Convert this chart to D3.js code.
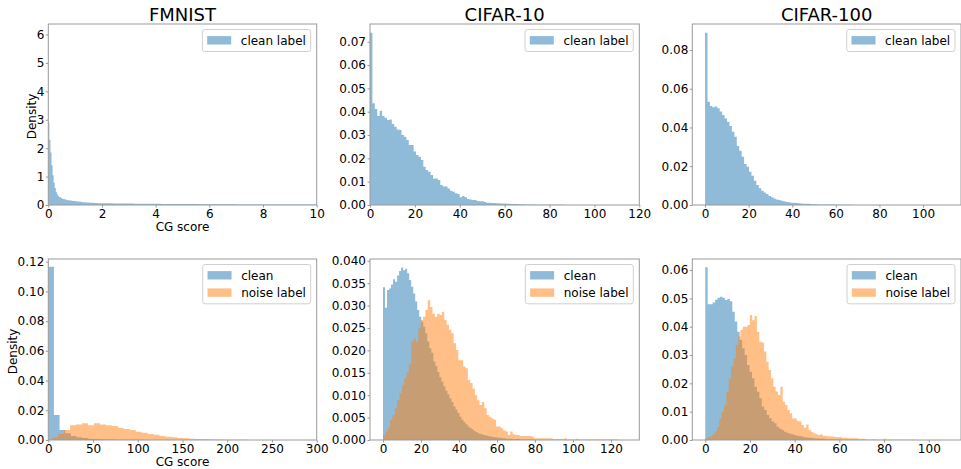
<!DOCTYPE html>
<html lang="en">
<head>
  <meta charset="UTF-8">
  <title>CG score histograms</title>
  <script src="https://cdn.jsdelivr.net/npm/d3@7"></script>
</head>
<body style="margin:0">
<style>
  text { font-family: "DejaVu Sans", sans-serif; fill: #000; }
  .tick text { font-size: 12px; }
  .tick line { stroke: #999; }
  .spine { fill: none; stroke: #999; stroke-width: 1; }
</style>
<svg id="fig" width="961" height="469"></svg>
<script>
// ---- data: histogram densities (bin start, bin width, heights) ----
// FMNIST, clean labels only (fine bins near zero, coarser tail)
var fmnistHeadStart = 0, fmnistHeadWidth = 0.04;
var fmnistHead = [2.9, 2.3, 1.85, 1.4, 1.05, 0.78, 0.6, 0.47, 0.38, 0.32,
  0.28, 0.26, 0.24, 0.22, 0.21, 0.2, 0.19, 0.18, 0.17, 0.165,
  0.16, 0.155, 0.15, 0.145, 0.14, 0.135, 0.13, 0.125, 0.12, 0.115,
  0.11, 0.105, 0.1, 0.1, 0.095, 0.09, 0.09, 0.085, 0.085, 0.08,
  0.08, 0.078, 0.075, 0.073, 0.07, 0.068, 0.066, 0.064, 0.062, 0.06];
var fmnistTailStart = 2, fmnistTailWidth = 0.2;
var fmnistTail = [0.06, 0.058, 0.056, 0.054, 0.052, 0.05, 0.048, 0.046, 0.044, 0.042,
  0.04, 0.038, 0.037, 0.036, 0.035, 0.033, 0.032, 0.031, 0.03, 0.029,
  0.027, 0.026, 0.025, 0.024, 0.023, 0.022, 0.021, 0.021, 0.02, 0.019,
  0.018, 0.018, 0.017, 0.017, 0.016, 0.016, 0.015, 0.015, 0.014, 0.014];

// CIFAR-10, clean labels only
var c10CleanStart = 0, c10CleanWidth = 1.08;
var c10Clean = [0.0739, 0.0436, 0.0412, 0.0382, 0.0404, 0.0382, 0.0374, 0.0364, 0.0367, 0.0347,
  0.0336, 0.0324, 0.0322, 0.0300, 0.0293, 0.0279, 0.0257, 0.0257, 0.0229, 0.0214,
  0.0207, 0.0193, 0.0164, 0.0150, 0.0143, 0.0129, 0.0114, 0.0114, 0.0107, 0.0086,
  0.0079, 0.0079, 0.0071, 0.0061, 0.0057, 0.0050, 0.0047, 0.0033, 0.0039, 0.0033,
  0.0026, 0.0024, 0.0021, 0.0021, 0.0017, 0.0016, 0.0016, 0.0013, 0.0010, 0.0010,
  0.0009, 0.0009, 0.0007, 0.0007, 0.0006, 0.0006, 0.0005, 0.0005, 0.0004, 0.0004,
  0.0004, 0.0003, 0.0003, 0.0003, 0.0002, 0.0002, 0.0002, 0.0002, 0.0001, 0.0001,
  0.0001, 0.0001, 0.0001, 0.0001, 0.0001, 0.0001, 0.0001, 0.0001, 0.0001, 0.0001,
  0.00005, 0.00005, 0.00005, 0.00005, 0.00005, 0.00005, 0.00005, 0.00005, 0.00005, 0.00005];

// CIFAR-100, clean labels only
var c100CleanStart = 0, c100CleanWidth = 1.12;
var c100Clean = [0.0889, 0.0533, 0.0511, 0.0504, 0.0508, 0.0499, 0.0482, 0.0464, 0.0447, 0.0430,
  0.0408, 0.0378, 0.0352, 0.0304, 0.0280, 0.0249, 0.0212, 0.0198, 0.0172, 0.0151,
  0.0125, 0.0103, 0.0086, 0.0074, 0.0064, 0.0057, 0.0046, 0.0040, 0.0034, 0.0029,
  0.0026, 0.0022, 0.0019, 0.0015, 0.0014, 0.0012, 0.0012, 0.0010, 0.0009, 0.0008,
  0.0007, 0.0006, 0.0006, 0.0005, 0.0004, 0.0004, 0.0003, 0.0003, 0.0003, 0.0002,
  0.0002, 0.0002, 0.0002, 0.0001, 0.0001, 0.0001, 0.0001, 0.0001, 0.0001, 0.0001,
  0.00005, 0.00005, 0.00005, 0.00005, 0.00005, 0.00005, 0.00005, 0.00005, 0.00005, 0.00005];

// FMNIST with noisy labels
var fmnNoisyCleanStart = 0, fmnNoisyCleanWidth = 6.3;
var fmnNoisyClean = [0.1166, 0.0168, 0.0067, 0.0045, 0.0027, 0.0018, 0.0013, 0.0009, 0.0007, 0.0005,
  0.0004, 0.0003, 0.0002, 0.0002, 0.0001, 0.0001, 0.0001];
var fmnNoiseStart = 4.3, fmnNoiseWidth = 6.67;
var fmnNoise = [0.0018, 0.0040, 0.0067, 0.0099, 0.0105, 0.0112, 0.0099, 0.0112, 0.0105, 0.0099,
  0.0095, 0.0083, 0.0074, 0.0067, 0.0056, 0.0049, 0.0040, 0.0036, 0.0027, 0.0022,
  0.0018, 0.0013, 0.0012, 0.0009, 0.0007, 0.0006, 0.0005, 0.0004, 0.0003, 0.0002,
  0.0001, 0.0001, 0.0001];

// CIFAR-10 with noisy labels
var c10NoisyCleanStart = 0, c10NoisyCleanWidth = 1.06;
var c10NoisyClean = [0.0341, 0.0295, 0.0335, 0.0338, 0.0347, 0.0359, 0.0353, 0.0367, 0.0377, 0.0385,
  0.0379, 0.0382, 0.0372, 0.0357, 0.0342, 0.0327, 0.0309, 0.0290, 0.0275, 0.0264,
  0.0253, 0.0238, 0.0220, 0.0205, 0.0195, 0.0175, 0.0165, 0.0152, 0.0140, 0.0130,
  0.0120, 0.0110, 0.0102, 0.0093, 0.0085, 0.0075, 0.0068, 0.0060, 0.0052, 0.0045,
  0.0040, 0.0035, 0.0030, 0.0027, 0.0024, 0.0020, 0.0018, 0.0015, 0.0014, 0.0012,
  0.0011, 0.0010, 0.0009, 0.0008, 0.0007, 0.0006, 0.0006, 0.0005, 0.0005, 0.0004,
  0.0004, 0.0003, 0.0003, 0.0003, 0.0002, 0.0002, 0.0002, 0.0002, 0.0001, 0.0001,
  0.0001, 0.0001, 0.0001, 0.0001, 0.0001];
var c10NoiseStart = 0, c10NoiseWidth = 1.24;
var c10Noise = [0.0011, 0.0019, 0.0028, 0.0045, 0.0056, 0.0071, 0.0089, 0.0104, 0.0123, 0.0138,
  0.0152, 0.0171, 0.0220, 0.0227, 0.0220, 0.0249, 0.0268, 0.0275, 0.0290, 0.0312,
  0.0297, 0.0282, 0.0275, 0.0282, 0.0279, 0.0286, 0.0268, 0.0257, 0.0246, 0.0238,
  0.0216, 0.0201, 0.0178, 0.0178, 0.0164, 0.0160, 0.0134, 0.0127, 0.0115, 0.0100,
  0.0089, 0.0078, 0.0085, 0.0071, 0.0056, 0.0052, 0.0048, 0.0045, 0.0030, 0.0030,
  0.0026, 0.0022, 0.0019, 0.0011, 0.0019, 0.0013, 0.0011, 0.0011, 0.0009, 0.0009,
  0.0009, 0.0009, 0.0009, 0.0008, 0.0004, 0.0004, 0.0004, 0.0004, 0.0004, 0.0004,
  0.0004, 0.0004, 0.0002, 0.0002, 0.0002, 0.0002, 0.0002, 0.0004, 0.0001, 0.0001,
  0.0001, 0.0001, 0.0003, 0.0001, 0.0001, 0.0001, 0.0001, 0.0001, 0.0001, 0.0001,
  0.0001, 0.0001, 0.0001, 0.0001, 0.0001, 0.0001, 0.0001, 0.0001, 0.0001, 0.0001];

// CIFAR-100 with noisy labels
var c100NoisyCleanStart = 0, c100NoisyCleanWidth = 1.1;
var c100NoisyClean = [0.0610, 0.0479, 0.0479, 0.0485, 0.0495, 0.0502, 0.0506, 0.0502, 0.0494, 0.0498,
  0.0490, 0.0453, 0.0418, 0.0382, 0.0353, 0.0324, 0.0300, 0.0265, 0.0241, 0.0218,
  0.0188, 0.0170, 0.0147, 0.0118, 0.0106, 0.0088, 0.0077, 0.0065, 0.0059, 0.0047,
  0.0041, 0.0035, 0.0029, 0.0026, 0.0022, 0.0020, 0.0018, 0.0015, 0.0014, 0.0012,
  0.0010, 0.0009, 0.0008, 0.0007, 0.0006, 0.0005, 0.0005, 0.0004, 0.0004, 0.0003,
  0.0003, 0.0003, 0.0002, 0.0002, 0.0002, 0.0001, 0.0001, 0.0001, 0.0001, 0.0001,
  0.0001, 0.0001, 0.0001, 0.0001, 0.0001];
var c100NoiseStart = 0, c100NoiseWidth = 1.05;
var c100Noise = [0.0006, 0.0009, 0.0012, 0.0020, 0.0030, 0.0047, 0.0076, 0.0100, 0.0124, 0.0171,
  0.0218, 0.0260, 0.0288, 0.0335, 0.0365, 0.0388, 0.0400, 0.0400, 0.0406, 0.0441,
  0.0423, 0.0438, 0.0382, 0.0347, 0.0344, 0.0312, 0.0276, 0.0247, 0.0218, 0.0188,
  0.0171, 0.0159, 0.0188, 0.0135, 0.0124, 0.0106, 0.0094, 0.0076, 0.0076, 0.0067,
  0.0065, 0.0053, 0.0043, 0.0055, 0.0035, 0.0029, 0.0024, 0.0020, 0.0018, 0.0020,
  0.0015, 0.0014, 0.0013, 0.0012, 0.0012, 0.0011, 0.0010, 0.0011, 0.0008, 0.0008,
  0.0008, 0.0006, 0.0006, 0.0006, 0.0006, 0.0004, 0.0003, 0.0004, 0.0003, 0.0002,
  0.0002, 0.0003, 0.0002, 0.0001, 0.0001, 0.0001, 0.0004, 0.0001, 0.0001, 0.0001,
  0.0001, 0.0001, 0.0001, 0.0001, 0.0001, 0.0001, 0.0001, 0.0001, 0.0001, 0.0001];

// ---- helpers ----
function makeBins(start, width, values) {
  return values.map(function(v, i) {
    return { x0: start + i * width, x1: start + (i + 1) * width, v: v };
  });
}

var blue = "#1f77b4", orange = "#ff7f0e";

var panels = [
  { title: "FMNIST", left: 48.3, top: 24, right: 316.7, bottom: 205,
    xDomain: [0, 10], yDomain: [0, 6.37], xTicks: d3.range(0, 11, 2), yTicks: d3.range(0, 7, 1),
    yFmt: d3.format("d"), xLabel: "CG score", yLabel: "Density",
    series: [{ label: "clean label", color: blue,
      bins: makeBins(fmnistHeadStart, fmnistHeadWidth, fmnistHead)
              .concat(makeBins(fmnistTailStart, fmnistTailWidth, fmnistTail)) }] },
  { title: "CIFAR-10", left: 370, top: 24, right: 639.3, bottom: 205,
    xDomain: [0, 120], yDomain: [0, 0.0776], xTicks: d3.range(0, 121, 20), yTicks: d3.range(0, 0.0701, 0.01),
    yFmt: d3.format(".2f"),
    series: [{ label: "clean label", color: blue, bins: makeBins(c10CleanStart, c10CleanWidth, c10Clean) }] },
  { title: "CIFAR-100", left: 692.3, top: 24, right: 961, bottom: 205,
    xDomain: [-5.85, 117.4], yDomain: [0, 0.0934], xTicks: d3.range(0, 101, 20), yTicks: d3.range(0, 0.0801, 0.02),
    yFmt: d3.format(".2f"),
    series: [{ label: "clean label", color: blue, bins: makeBins(c100CleanStart, c100CleanWidth, c100Clean) }] },
  { left: 48.3, top: 259, right: 316.7, bottom: 440,
    xDomain: [0, 300], yDomain: [0, 0.1218], xTicks: d3.range(0, 301, 50), yTicks: d3.range(0, 0.1201, 0.02),
    yFmt: d3.format(".2f"), xLabel: "CG score", yLabel: "Density",
    series: [{ label: "clean", color: blue, bins: makeBins(fmnNoisyCleanStart, fmnNoisyCleanWidth, fmnNoisyClean) },
             { label: "noise label", color: orange, bins: makeBins(fmnNoiseStart, fmnNoiseWidth, fmnNoise) }] },
  { left: 370, top: 259, right: 639.3, bottom: 440,
    xDomain: [-6.84, 134.9], yDomain: [0, 0.0404], xTicks: d3.range(0, 121, 20), yTicks: d3.range(0, 0.0401, 0.005),
    yFmt: d3.format(".3f"),
    series: [{ label: "clean", color: blue, bins: makeBins(c10NoisyCleanStart, c10NoisyCleanWidth, c10NoisyClean) },
             { label: "noise label", color: orange, bins: makeBins(c10NoiseStart, c10NoiseWidth, c10Noise) }] },
  { left: 692.3, top: 259, right: 961, bottom: 440,
    xDomain: [-5.8, 114.4], yDomain: [0, 0.0639], xTicks: d3.range(0, 101, 20), yTicks: d3.range(0, 0.0601, 0.01),
    yFmt: d3.format(".2f"),
    series: [{ label: "clean", color: blue, bins: makeBins(c100NoisyCleanStart, c100NoisyCleanWidth, c100NoisyClean) },
             { label: "noise label", color: orange, bins: makeBins(c100NoiseStart, c100NoiseWidth, c100Noise) }] }
];

var svg = d3.select("#fig");
svg.append("rect").attr("width", 961).attr("height", 469).attr("fill", "#fff");

panels.forEach(function(p, idx) {
  var x = d3.scaleLinear().domain(p.xDomain).range([p.left, p.right]);
  var y = d3.scaleLinear().domain(p.yDomain).range([p.bottom, p.top]);
  var g = svg.append("g");

  var clipId = "clip" + idx;
  g.append("clipPath").attr("id", clipId)
    .append("rect").attr("x", p.left).attr("y", p.top)
    .attr("width", p.right - p.left).attr("height", p.bottom - p.top);

  var plot = g.append("g").attr("clip-path", "url(#" + clipId + ")");

  // step-shaped histogram area for each series
  var area = d3.area()
    .x(function(d) { return x(d.x); })
    .y0(y(0))
    .y1(function(d) { return y(d.v); })
    .curve(d3.curveStepAfter);

  p.series.forEach(function(s) {
    var pts = s.bins.map(function(b) { return { x: b.x0, v: b.v }; });
    var last = s.bins[s.bins.length - 1];
    pts.push({ x: last.x1, v: last.v });
    pts.unshift({ x: s.bins[0].x0, v: 0 });
    plot.append("path")
      .datum(pts)
      .attr("d", area)
      .attr("fill", s.color)
      .attr("fill-opacity", 0.5);
  });

  // axes
  var xAxis = d3.axisBottom(x).tickValues(p.xTicks).tickFormat(d3.format("d")).tickSize(2.5).tickPadding(2);
  var yAxis = d3.axisLeft(y).tickValues(p.yTicks).tickFormat(p.yFmt).tickSize(2.5).tickPadding(1.5);
  g.append("g").attr("transform", "translate(0," + p.bottom + ")").call(xAxis)
    .call(function(a) { a.select(".domain").remove(); });
  g.append("g").attr("transform", "translate(" + p.left + ",0)").call(yAxis)
    .call(function(a) { a.select(".domain").remove(); });
  g.selectAll(".tick text").attr("fill", "#000").style("font-size", "12px")
    .style("font-family", "'DejaVu Sans', sans-serif");

  g.append("rect").attr("class", "spine")
    .attr("x", p.left).attr("y", p.top)
    .attr("width", p.right - p.left).attr("height", p.bottom - p.top);

  if (p.title) {
    g.append("text").attr("x", (p.left + p.right) / 2).attr("y", p.top - 3.5)
      .attr("text-anchor", "middle").style("font-size", "18px").text(p.title);
  }
  if (p.xLabel) {
    g.append("text").attr("x", (p.left + p.right) / 2).attr("y", p.bottom + 26)
      .attr("text-anchor", "middle").style("font-size", "12px").text(p.xLabel);
  }
  if (p.yLabel) {
    var yl = idx === 0 ? 35.5 : 16.5;
    g.append("text")
      .attr("transform", "translate(" + yl + "," + ((p.top + p.bottom) / 2 + 2) + ") rotate(-90)")
      .attr("text-anchor", "middle").style("font-size", "12px").text(p.yLabel);
  }

  // legend (upper right)
  var leg = g.append("g");
  var frame = leg.append("rect");
  var widths = [];
  var boxTop = p.top + 5.5;
  p.series.forEach(function(s, i) {
    var cy = boxTop + 10.8 + i * 17.3;
    leg.append("rect").attr("class", "lp").attr("y", cy - 4.2).attr("width", 24).attr("height", 8.4)
      .attr("fill", s.color).attr("fill-opacity", 0.5);
    var t = leg.append("text").attr("class", "lt").attr("y", cy).attr("dy", "0.36em")
      .style("font-size", "12px").text(s.label);
    widths.push(t.node().getComputedTextLength());
  });
  var boxW = 4.8 + 24 + 9.6 + d3.max(widths) + 4.8;
  var boxLeft = p.right - 6 - boxW;
  leg.selectAll(".lp").attr("x", boxLeft + 4.8);
  leg.selectAll(".lt").attr("x", boxLeft + 4.8 + 24 + 9.6);
  frame.attr("x", boxLeft).attr("y", boxTop).attr("width", boxW)
    .attr("height", 22 + (p.series.length - 1) * 17.3)
    .attr("rx", 2.4).attr("fill", "#fff").attr("fill-opacity", 0.8)
    .attr("stroke", "#d0d0d0").attr("stroke-width", 1);
});
</script>
</body>
</html>
